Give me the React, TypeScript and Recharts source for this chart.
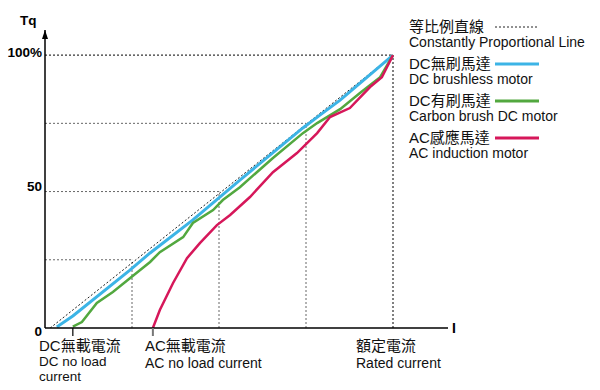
// 馬達轉矩 / 電流特性比較圖
// 三種馬達與等比例直線

import {
    LineChart,
    Line,
    XAxis,
    YAxis,
    ReferenceLine,
    ReferenceDot,
} from 'recharts'

type Pt = { x: number; y: number }
const toPts = (arr: number[][]): Pt[] => arr.map(([x, y]) => ({ x, y }))

// 等比例直線
const proportional = toPts([[1.5, 0], [100, 100]])

// DC無刷馬達
const brushless = toPts([
    [3.4, 0.4], [8, 4.4], [24.4, 21.2], [30.2, 27.5], [42.5, 39.6], [56, 54.2],
    [74.1, 73.3], [79, 78], [84.8, 83.5], [100, 100],
])

// DC有刷馬達
const brushed = toPts([
    [8, 0.5], [10.6, 2.2], [14.9, 9.2], [19.5, 13.2], [24.4, 18.2], [30.2, 24.2],
    [33, 27.8], [39.7, 33.3], [42.5, 38.5], [48.3, 43.2], [51.1, 46.9], [56, 51.6],
    [65.5, 62.3], [74.1, 71.4], [78.2, 75.1], [84.8, 80.2], [90.5, 86.1],
    [96.3, 91.9], [100, 100],
])

// AC感應馬達
const induction = toPts([
    [31, 0], [33, 6.6], [36.8, 16.5], [40.8, 25.6], [44.5, 31.1], [49.4, 37.7],
    [53.2, 41.4], [58.9, 48], [65.5, 57.1], [72.4, 64.1], [78.2, 71.4], [81.9, 77.3],
    [87.6, 80.6], [93.4, 88.3], [96.8, 91.9], [100, 100],
])

const yTicks = [0, 50, 100]
const guideLevels = [25, 50, 75]
const noLoadTicks = [3.4, 8, 31]

const legendItems = [
    { zh: '等比例直線', en: 'Constantly Proportional Line', color: '#222', dashed: true },
    { zh: 'DC無刷馬達', en: 'DC brushless motor', color: '#3cb4e6', dashed: false },
    { zh: 'DC有刷馬達', en: 'Carbon brush DC motor', color: '#52a83f', dashed: false },
    { zh: 'AC感應馬達', en: 'AC induction motor', color: '#d6175a', dashed: false },
]

const FONT = '"Liberation Sans", Arial, "Noto Sans CJK TC", sans-serif'

const YTick = (props: any) => {
    const { x, y, payload } = props
    const v = payload.value
    const dy = v === 0 ? 8 : v === 100 ? 2 : -1
    return (
        <text x={x} y={y + dy} textAnchor="end" fontSize={13.5} fontWeight="bold"
            fontFamily={FONT} fill="#000">
            {v === 100 ? '100%' : v}
        </text>
    )
}

const XTick = (props: any) => {
    const { x, y, payload } = props
    const grey = payload.value === 31
    return (
        <line x1={x} x2={x} y1={y} y2={y + 8}
            stroke={grey ? '#777' : '#000'} strokeWidth={grey ? 2 : 1.2} />
    )
}

// 單行文字, cy 為中心高度
const txt = (left: number, cy: number, size: number, lh: number, s: string, extra: any = {}) => (
    <div style={{
        position: 'absolute', left, top: cy - lh / 2, fontSize: size, height: lh,
        lineHeight: `${lh}px`, color: '#111', whiteSpace: 'nowrap', ...extra,
    }}>{s}</div>
)

export default function App() {
    return (
        <div style={{ position: 'absolute', left: 0, top: 0, width: 600, height: 390, background: '#fff', fontFamily: FONT }}>
            <LineChart width={600} height={390} margin={{ top: 30, right: 152, left: 0, bottom: 32 }}>
                <XAxis type="number" dataKey="x" domain={[0, 115.8]} ticks={noLoadTicks}
                    axisLine={{ stroke: '#000', strokeWidth: 1.5 }} tickLine={false}
                    tickSize={0} tickMargin={0} tick={XTick} height={30} allowDataOverflow />
                <YAxis type="number" dataKey="y" domain={[0, 109.2]} ticks={yTicks}
                    axisLine={{ stroke: '#000', strokeWidth: 1.5 }} tickLine={false}
                    tickSize={0} tickMargin={3} tick={YTick} width={45} allowDataOverflow />
                {guideLevels.map((lv) => (
                    <ReferenceLine key={'h' + lv} segment={[{ x: 0, y: lv }, { x: lv, y: lv }]}
                        stroke="#666" strokeDasharray="2 2" />
                ))}
                {guideLevels.map((lv) => (
                    <ReferenceLine key={'v' + lv} segment={[{ x: lv, y: 0 }, { x: lv, y: lv }]}
                        stroke="#666" strokeDasharray="2 2" />
                ))}
                <ReferenceLine segment={[{ x: 0, y: 100 }, { x: 100, y: 100 }]}
                    stroke="#000" strokeDasharray="2 2" />
                <ReferenceLine segment={[{ x: 100, y: 0 }, { x: 100, y: 100 }]}
                    stroke="#000" strokeDasharray="2 2" />
                <Line data={proportional} dataKey="y" stroke="#222" strokeWidth={1}
                    strokeDasharray="2 2" dot={false} isAnimationActive={false} />
                <Line data={brushless} dataKey="y" stroke="#3cb4e6" strokeWidth={3}
                    dot={false} isAnimationActive={false} />
                <Line data={brushed} dataKey="y" stroke="#52a83f" strokeWidth={2.5}
                    dot={false} isAnimationActive={false} />
                <Line data={induction} dataKey="y" stroke="#d6175a" strokeWidth={2.5}
                    dot={false} isAnimationActive={false} />
                <ReferenceDot x={0} y={109.2} r={0}
                    shape={(p: any) => (
                        <path d={`M${p.cx - 3},${p.cy + 9} L${p.cx},${p.cy} L${p.cx + 3},${p.cy + 9} Z`} fill="#000" />
                    )} />
            </LineChart>

            {txt(20, 21, 13.5, 14, 'Tq', { fontWeight: 'bold', color: '#000' })}
            {txt(452, 328, 14, 14, 'I', { fontWeight: 'bold', color: '#000' })}

            {legendItems.map((it, i) => {
                const cy = 27 + i * 37
                return (
                    <div key={it.en}>
                        {txt(409, cy, 15, 14, it.zh)}
                        <svg style={{ position: 'absolute', left: 495, top: cy - 3 }} width={44} height={6}>
                            <line x1={0} x2={44} y1={3} y2={3} stroke={it.color}
                                strokeWidth={it.dashed ? 1 : 3} strokeDasharray={it.dashed ? '2 2' : undefined} />
                        </svg>
                        {txt(409, cy + 15, 14, 13, it.en)}
                    </div>
                )
            })}

            {txt(39, 346, 15, 14, 'DC無載電流')}
            {txt(39, 361, 13.5, 13, 'DC no load')}
            {txt(39, 376, 13.5, 13, 'current')}
            {txt(145, 346, 15, 14, 'AC無載電流')}
            {txt(145, 363, 14, 13, 'AC no load current')}
            {txt(356, 346, 15, 14, '額定電流')}
            {txt(356, 363, 14, 13, 'Rated current')}
        </div>
    )
}
